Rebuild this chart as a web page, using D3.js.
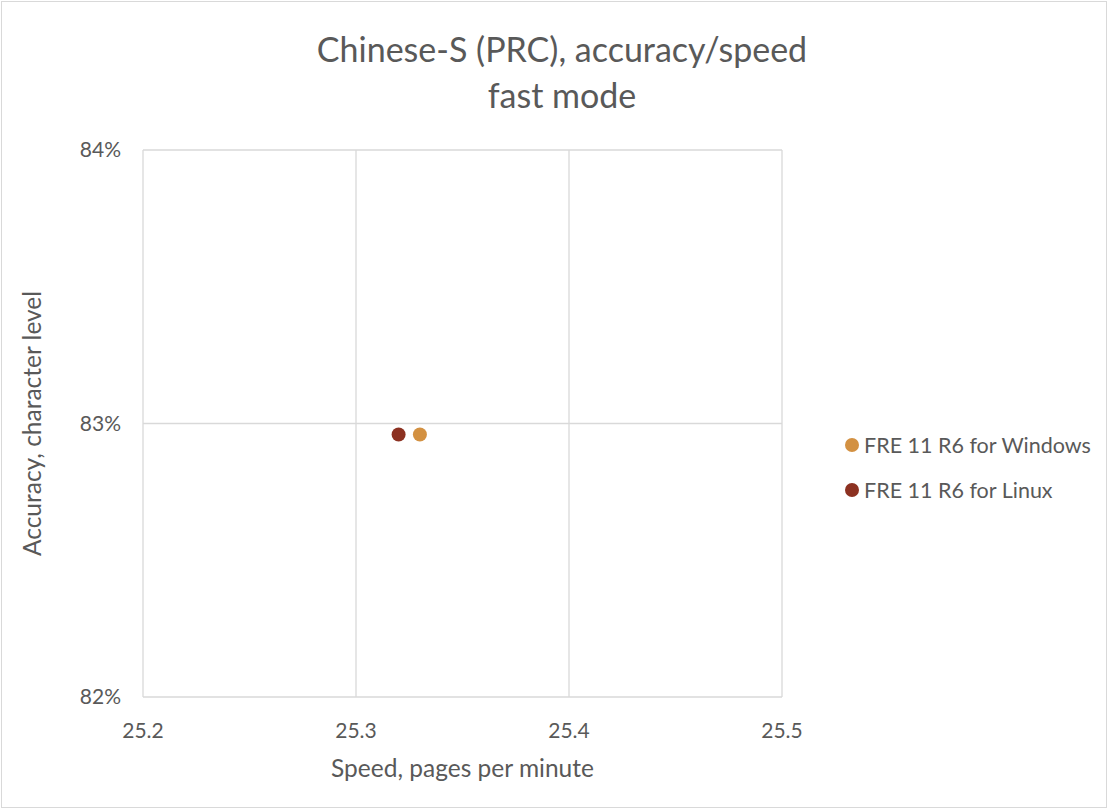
<!DOCTYPE html>
<html>
<head>
<meta charset="utf-8">
<script src="https://cdn.jsdelivr.net/npm/d3@7"></script>
<style>
  body { margin: 0; background: #fff; }
  text { font-family: Lato, "Open Sans", sans-serif; fill: #595959; }
</style>
</head>
<body>
<div id="chart"></div>
<script>
// Chart data
const seriesNames = ['FRE 11 R6 for Windows', 'FRE 11 R6 for Linux'];
const seriesColors = ['#D39142', '#8C3121'];
const speedValues = [25.33, 25.32];
const accuracyValues = [0.8296, 0.8296];
const xTicks = [25.2, 25.3, 25.4, 25.5];
const yTicks = [0.82, 0.83, 0.84];

const width = 1108, height = 809;
const margin = { left: 143, right: 326, top: 150, bottom: 112 };

const svg = d3.select('#chart').append('svg')
    .attr('width', width)
    .attr('height', height);

// outer frame
svg.append('rect')
    .attr('x', 1.5).attr('y', 1.5)
    .attr('width', width - 3).attr('height', height - 3)
    .attr('fill', '#fff').attr('stroke', '#d9d9d9');

const x = d3.scaleLinear().domain([25.2, 25.5]).range([margin.left, width - margin.right]);
const y = d3.scaleLinear().domain([0.82, 0.84]).range([height - margin.bottom, margin.top]);

// gridlines
svg.append('g').selectAll('line').data(xTicks).join('line')
    .attr('x1', d => x(d)).attr('x2', d => x(d))
    .attr('y1', y(0.84)).attr('y2', y(0.82))
    .attr('stroke', '#d9d9d9').attr('stroke-width', 1.3);
svg.append('g').selectAll('line').data(yTicks).join('line')
    .attr('x1', x(25.2)).attr('x2', x(25.5))
    .attr('y1', d => y(d)).attr('y2', d => y(d))
    .attr('stroke', '#d9d9d9').attr('stroke-width', 1.3);

// tick labels
svg.append('g').selectAll('text').data(xTicks).join('text')
    .attr('x', d => x(d)).attr('y', y(0.82) + 41)
    .attr('text-anchor', 'middle')
    .attr('font-size', 21)
    .text(d => d3.format('.1f')(d));
svg.append('g').selectAll('text').data(yTicks).join('text')
    .attr('x', x(25.2) - 22).attr('y', d => y(d) + 7)
    .attr('text-anchor', 'end')
    .attr('font-size', 21)
    .text(d => d3.format('.0%')(d));

// points
const pts = seriesNames.map((n, i) => ({ name: n, color: seriesColors[i], sx: speedValues[i], sy: accuracyValues[i] }));
svg.append('g').selectAll('circle').data(pts).join('circle')
    .attr('cx', d => x(d.sx)).attr('cy', d => y(d.sy))
    .attr('r', 7)
    .attr('fill', d => d.color);

// title
svg.append('text')
    .attr('x', 562).attr('y', 62)
    .attr('text-anchor', 'middle').attr('font-size', 34)
    .text('Chinese-S (PRC), accuracy/speed');
svg.append('text')
    .attr('x', 562).attr('y', 108)
    .attr('text-anchor', 'middle').attr('font-size', 34)
    .text('fast mode');

// axis titles
svg.append('text')
    .attr('x', (x(25.2) + x(25.5)) / 2).attr('y', 777)
    .attr('text-anchor', 'middle').attr('font-size', 24.5)
    .text('Speed, pages per minute');
svg.append('text')
    .attr('transform', `translate(41,${(y(0.82) + y(0.84)) / 2}) rotate(-90)`)
    .attr('text-anchor', 'middle').attr('font-size', 24.5)
    .text('Accuracy, character level');

// legend
const legend = svg.append('g').selectAll('g').data(pts).join('g')
    .attr('transform', (d, i) => `translate(852,${445 + i * 45})`);
legend.append('circle').attr('r', 7).attr('fill', d => d.color);
legend.append('text')
    .attr('x', 12).attr('y', 7.5)
    .attr('font-size', 21.5)
    .text(d => d.name);
</script>
</body>
</html>
